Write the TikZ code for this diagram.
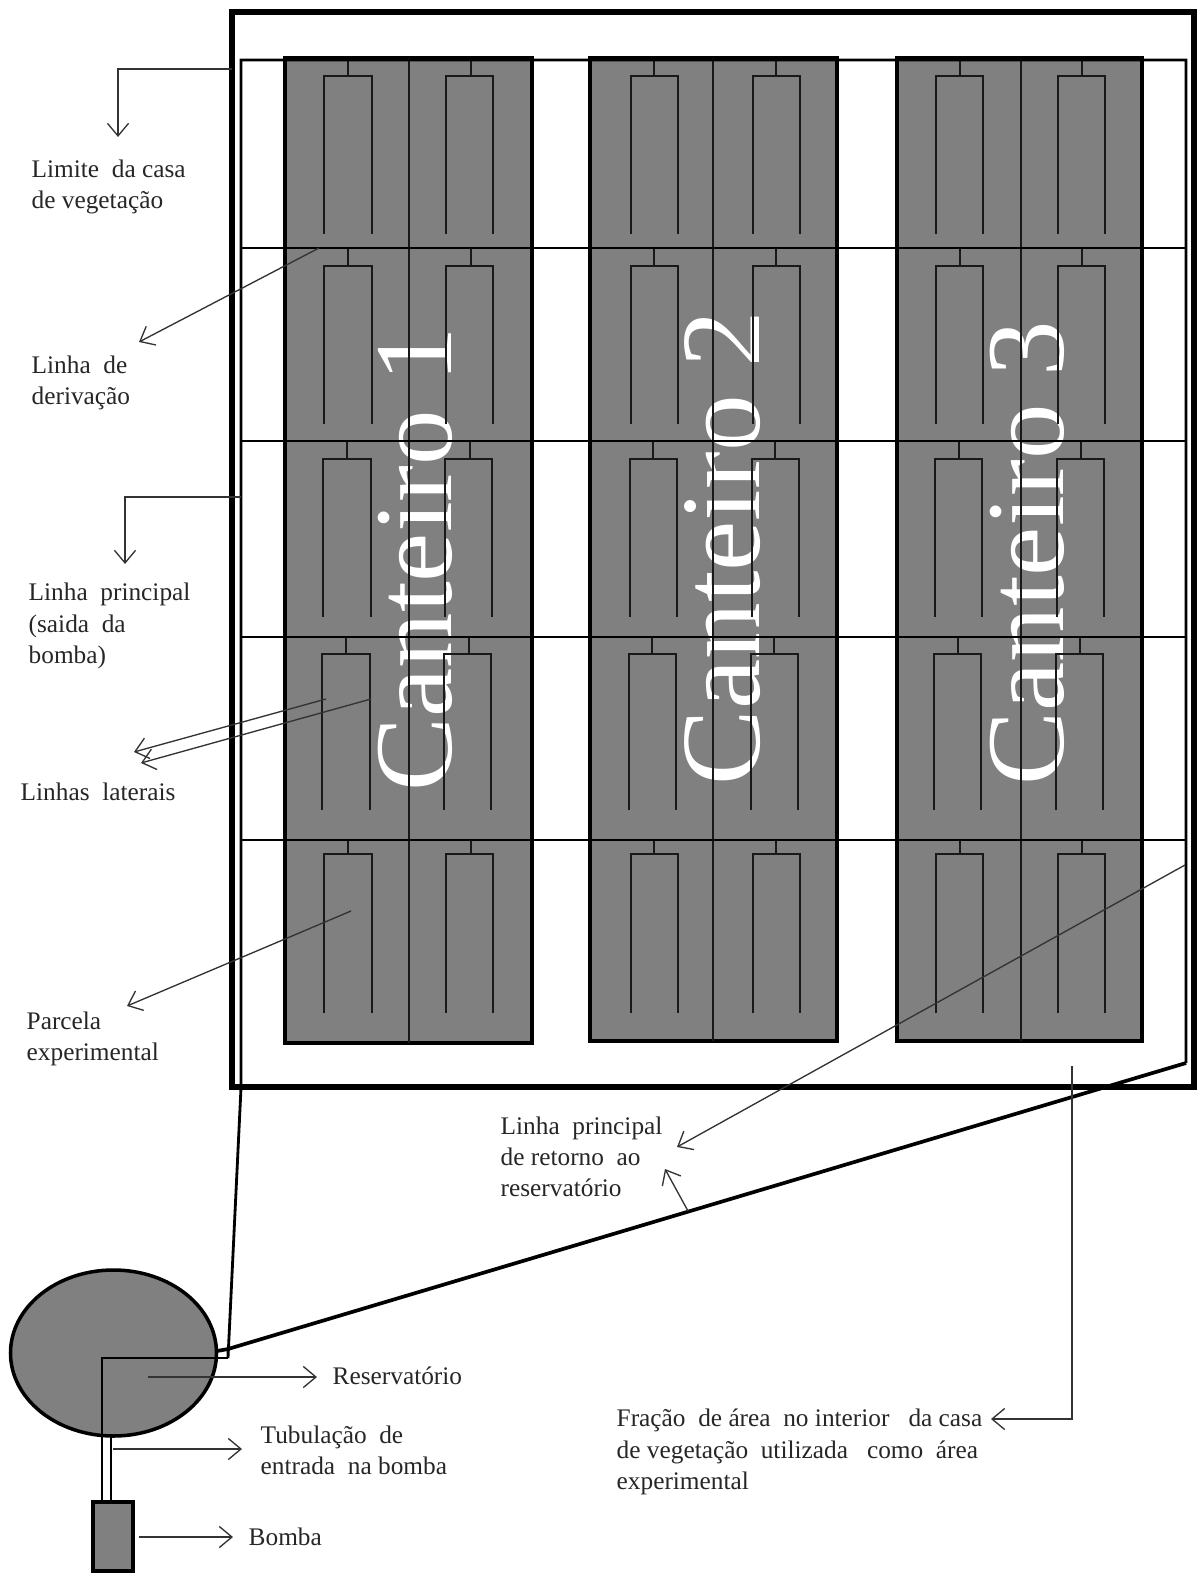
\documentclass[tikz,border=0pt]{standalone}
\usepackage{fontspec}
\setmainfont{Liberation Serif}
\usetikzlibrary{arrows.meta}

\newcommand{\parcela}[4]{% stub x, left x, right x, row shift
  \draw[lateral] (#1+#4,\yl) -- (#1+#4,\yb);
  \draw[lateral] (#2+#4,\ye) -- (#2+#4,\yb) -- (#3+#4,\yb) -- (#3+#4,\ye);
}

\begin{document}
\begin{tikzpicture}[
  x=0.01cm,y=-0.01cm,
  frame/.style={draw=black,line width=1.45pt},
  canteiro/.style={draw=black,line width=1.25pt,fill=black!50},
  pipe/.style={draw=black,line width=0.8pt},
  backline/.style={draw=black,line width=1.05pt},
  lateral/.style={draw=black!90,line width=0.45pt},
  callout/.style={draw=black!80,line width=0.38pt,-{Straight Barb[length=3.6pt,width=6pt]}},
  label/.style={font=\fontsize{7.2}{8.9}\selectfont,text=black!85,anchor=west,align=left,inner sep=0pt},
  bigtext/.style={text=white,rotate=90,anchor=base west,inner sep=0pt},
]
\useasboundingbox (0,0) rectangle (1196,1573);

% canteiros
\foreach \xa/\xb/\yc/\xt/\yt/\fs/\num in {285/532/1043/451/792/31.5/1,590/837/1041/759/786/32.2/2,897/1142/1041/1063/786/31.5/3} {
  \draw[canteiro] (\xa,58) rectangle (\xb,\yc);
  \node[bigtext,font=\fontsize{\fs}{32}\selectfont] (canteiro\num) at (\xt,\yt) {Canteiro \num};
}
\foreach \xm/\yc in {409/1043,713/1041,1021/1041}
  \draw[lateral] (\xm,58) -- (\xm,\yc);

% parcelas
\foreach \yl/\yb/\ye/\sh in {60/76/234/0,248/266/424/0,441/459/617/-1,637/654/810/-2,840/854/1013/0} {
  \parcela{348}{324}{372}{\sh}
  \parcela{471}{446}{493}{\sh}
  \parcela{654}{631}{678}{\sh}
  \parcela{776}{753}{800}{\sh}
  \parcela{960}{936}{983}{\sh}
  \parcela{1082}{1058}{1105}{\sh}
}

% frame
\draw[frame] (232,12) rectangle (1194,1087);

% coordinates of the pipes
\coordinate (tankCorner) at (228,1358);
\coordinate (tankReturn) at (228,1349);
\coordinate (mainTop) at (241,60);
\coordinate (mainBottom) at (241,1088);
\coordinate (backTop) at (1186,60);
\coordinate (backBottom) at (1186,1063);

% reservatorio and bomba
\draw[canteiro,line width=1pt] (113.5,1353) ellipse [x radius=103,y radius=83];
\coordinate (pumpIn) at (102,1500);
\coordinate (tankPipe) at (102,1358);
\draw[canteiro,line width=1.35pt] (93,1502) rectangle (133,1571);
\draw[backline] (217,1351) -- (tankReturn) -- (backBottom);
\draw[pipe] (backBottom) -- (backTop) -- (mainTop) -- (mainBottom) -- (tankCorner) -- (tankReturn);
\draw[pipe] (pumpIn) -- (tankPipe) -- (tankCorner);
\draw[pipe] (111,1437) -- (111,1500);
\foreach \yl in {248,441,637,840}
  \draw[pipe] (241,\yl) -- (1186,\yl);

% labels
\node[label] (limite) at (31,187) {Limite\ \ da casa\\de vegetação};
\node[label] (derivacao) at (31,383) {Linha\ \ de\\derivação};
\node[label] (principal) at (28,626) {Linha\ \ principal\\(saida\ \ da\\bomba)};
\node[label] (laterais) at (20,792) {Linhas\ \ laterais};
\node[label] (parcela) at (26,1039) {Parcela\\experimental};
\node[label] (retorno) at (500,1157) {Linha\ \ principal\\de retorno\ \ ao\\reservatório};
\node[label] (fracao) at (616,1452) {Fração\ \ de área\ \ no\ interior\ \ \ da casa\\de vegetação\ \ utilizada\ \ \ como\ \ área\\experimental};
\node[label] (reservatorio) at (332,1376) {Reservatório};
\node[label] (tubulacao) at (260,1450) {Tubulação\ \ de\\entrada\ \ na bomba};
\node[label] (bomba) at (248,1537) {Bomba};

% callouts
\coordinate (limiteA) at (232,69);
\coordinate (limiteB) at (118,69);
\coordinate (limiteC) at (118,137);
\draw[callout] (limiteA) -- (limiteB) -- (limiteC);
\coordinate (derivA) at (319,248);
\coordinate (derivB) at (139,342);
\draw[callout] (derivA) -- (derivB);
\coordinate (princA) at (241,497);
\coordinate (princB) at (125,497);
\coordinate (princC) at (125,564);
\draw[callout] (princA) -- (princB) -- (princC);
\coordinate (latA) at (326,699);
\coordinate (latB) at (134,752);
\coordinate (latC) at (371,699);
\coordinate (latD) at (141,763);
\draw[callout] (latA) -- (latB);
\draw[callout] (latC) -- (latD);
\coordinate (parcA) at (351,911);
\coordinate (parcB) at (127,1006);
\draw[callout] (parcA) -- (parcB);
\coordinate (retA) at (1185,865);
\coordinate (retB) at (677,1147);
\draw[callout] (retA) -- (retB);
\coordinate (retC) at (688,1211);
\coordinate (retD) at (665,1169);
\draw[callout] (retC) -- (retD);
\coordinate (fracA) at (1072,1066);
\coordinate (fracB) at (1072,1419);
\coordinate (fracC) at (991,1419);
\draw[callout] (fracA) -- (fracB) -- (fracC);
\coordinate (resA) at (148,1377);
\coordinate (resB) at (317,1377);
\draw[callout] (resA) -- (resB);
\coordinate (tubA) at (113,1449);
\coordinate (tubB) at (242,1449);
\draw[callout] (tubA) -- (tubB);
\coordinate (bomA) at (139,1537);
\coordinate (bomB) at (233,1537);
\draw[callout] (bomA) -- (bomB);
\end{tikzpicture}
\end{document}
